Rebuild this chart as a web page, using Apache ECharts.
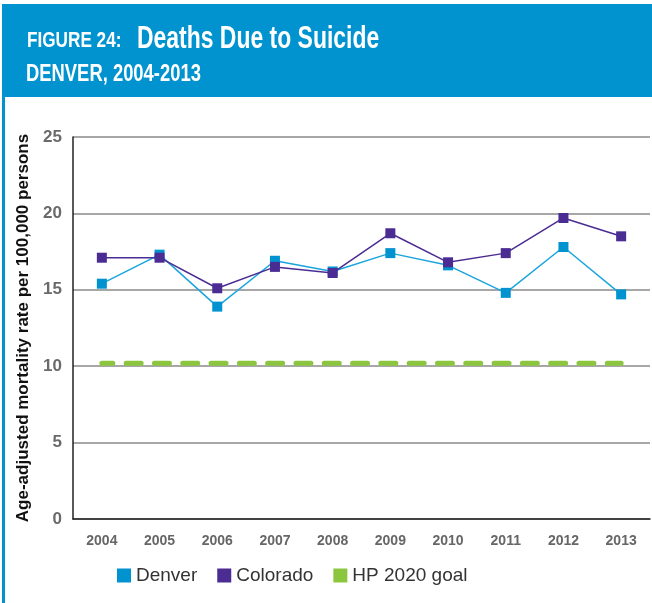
<!DOCTYPE html>
<html>
<head>
<meta charset="utf-8">
<script src="https://cdn.jsdelivr.net/npm/echarts@6/dist/echarts.min.js"></script>
<style>
  html, body { margin: 0; padding: 0; background: #fff; }
  #chart { width: 652px; height: 603px; }
</style>
</head>
<body>
<div id="chart"></div>
<script>
// values
const years = ['2004', '2005', '2006', '2007', '2008', '2009', '2010', '2011', '2012', '2013']
const denver = [15.4, 17.3, 13.9, 16.9, 16.2, 17.4, 16.6, 14.8, 17.8, 14.7]
const colorado = [17.1, 17.1, 15.1, 16.5, 16.1, 18.7, 16.8, 17.4, 19.7, 18.5]
const hpGoal = [10.2, 10.2, 10.2, 10.2, 10.2, 10.2, 10.2, 10.2, 10.2, 10.2]

const BLUE = '#0093d0'
const PURPLE = '#4a2c93'
const GREEN = '#8cc63f'
const headFont = '"Liberation Sans", Arial, sans-serif'

const chart = echarts.init(document.getElementById('chart'))

const option = {
  animation: false,
  graphic: [
    { type: 'rect', shape: { x: 2, y: 4, width: 650, height: 93 }, style: { fill: BLUE }, z: 0 },
    { type: 'rect', shape: { x: 2, y: 97, width: 3, height: 506 }, style: { fill: BLUE }, z: 0 },
    {
      type: 'text', x: 27, y: 30, scaleX: 0.78, z: 5,
      style: { text: 'FIGURE 24:', fill: '#fff', font: 'bold 22px ' + headFont }
    },
    {
      type: 'text', x: 137, y: 24, scaleX: 0.74, z: 5,
      style: { text: 'Deaths Due to Suicide', fill: '#fff', font: 'bold 31px ' + headFont }
    },
    {
      type: 'text', x: 26, y: 63, scaleX: 0.8, z: 5,
      style: { text: 'DENVER, 2004-2013', fill: '#fff', font: 'bold 23px ' + headFont }
    }
  ],
  grid: { left: 73, right: 2, top: 137, bottom: 84 },
  legend: {
    left: 112,
    top: 561,
    itemWidth: 14,
    itemHeight: 14,
    itemGap: 20,
    icon: 'rect',
    textStyle: { fontSize: 19, color: '#333', fontFamily: headFont },
    data: ['Denver', 'Colorado', 'HP 2020 goal']
  },
  xAxis: {
    type: 'category',
    data: years,
    boundaryGap: true,
    axisLine: { lineStyle: { color: '#222', width: 1.5 } },
    axisTick: { inside: true, length: 8, lineStyle: { color: '#222', width: 1 } },
    axisLabel: { color: '#666', fontSize: 14, fontWeight: 'bold', margin: 15, fontFamily: headFont }
  },
  yAxis: {
    type: 'value',
    min: 0,
    max: 25,
    interval: 5,
    name: 'Age-adjusted mortality rate per 100,000 persons',
    nameLocation: 'middle',
    nameGap: 41,
    nameTextStyle: { fontSize: 17, fontWeight: 'bold', color: '#111', fontFamily: headFont },
    axisLine: { show: true, lineStyle: { color: '#222', width: 1.5 } },
    axisTick: { show: false },
    axisLabel: { color: '#6a6a6a', fontSize: 17, fontWeight: 'bold', margin: 11 },
    splitLine: { lineStyle: { color: '#8a8a8a', width: 1.5 } }
  },
  series: [
    {
      name: 'HP 2020 goal',
      type: 'line',
      data: hpGoal,
      symbol: 'none',
      color: GREEN,
      lineStyle: { color: GREEN, width: 5, type: [15, 13.3], dashOffset: 4, cap: 'round' },
      z: 1
    },
    {
      name: 'Denver',
      type: 'line',
      data: denver,
      symbol: 'rect',
      symbolSize: 10,
      color: BLUE,
      lineStyle: { color: '#1aa5dd', width: 1.5 },
      itemStyle: { color: BLUE },
      z: 2
    },
    {
      name: 'Colorado',
      type: 'line',
      data: colorado,
      symbol: 'rect',
      symbolSize: 10,
      color: PURPLE,
      lineStyle: { color: PURPLE, width: 1.5 },
      itemStyle: { color: PURPLE },
      z: 3
    }
  ]
}

chart.setOption(option)
</script>
</body>
</html>
